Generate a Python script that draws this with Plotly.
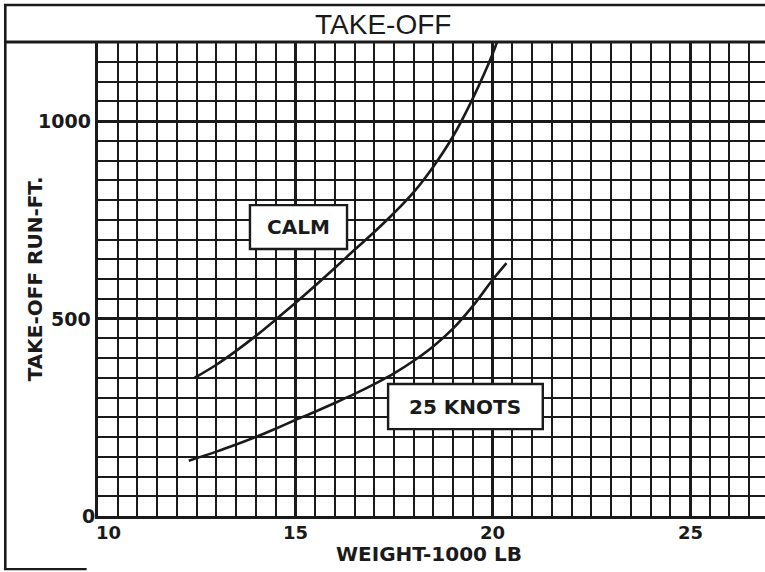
import plotly.graph_objects as go

# ---- data ----
calm_weight = [12.45, 13.0, 13.5, 14.0, 14.5, 15.0, 15.5, 16.0, 16.5, 17.0, 17.5, 18.0, 18.5, 19.0, 19.5, 20.0, 20.15]
calm_run = [350, 383, 418, 456, 497, 539, 583, 628, 674, 719, 767, 820, 885, 962, 1058, 1170, 1212]

knots25_weight = [12.3, 13.0, 13.5, 14.0, 14.5, 15.0, 15.5, 16.0, 16.5, 17.0, 17.5, 18.0, 18.5, 19.0, 19.5, 20.0, 20.35]
knots25_run = [140, 163, 181, 200, 221, 243, 264, 286, 309, 334, 361, 393, 430, 475, 532, 598, 640]

x_tick_vals = [10, 15, 20, 25]
x_tick_text = ["10", "15", "20", "25"]
y_tick_vals = [0, 500, 1000]
y_tick_text = ["0", "500", "1000"]

title_text = "TAKE-OFF"
x_title = "WEIGHT-1000 LB"
y_title = "TAKE-OFF RUN-FT."
calm_label = "CALM"
knots_label = "25 KNOTS"

INK = "#1a1a1a"
TICKFONT = dict(family="DejaVu Sans", size=18, color=INK)
YTICKFONT = dict(family="DejaVu Sans", size=19, color=INK)
BOXFONT = dict(family="DejaVu Sans", size=20, color=INK)
TITLEFONT = dict(family="DejaVu Sans", size=20, color=INK)

fig = go.Figure()
fig.add_trace(go.Scatter(x=calm_weight, y=calm_run, mode="lines", name=calm_label,
                         line=dict(color=INK, width=2.6, shape="spline", smoothing=1.0),
                         showlegend=False, cliponaxis=True))
fig.add_trace(go.Scatter(x=knots25_weight, y=knots25_run, mode="lines", name=knots_label,
                         line=dict(color=INK, width=2.6, shape="spline", smoothing=1.0),
                         showlegend=False, cliponaxis=True))

axis_common = dict(showticklabels=False, ticks="", zeroline=False,
                   showline=True, linecolor=INK, linewidth=3,
                   showgrid=True, gridcolor=INK, gridwidth=2.6)
fig.update_xaxes(range=[10, 26.9], tick0=10, dtick=5,
                 minor=dict(dtick=0.5, tick0=10, showgrid=True, gridcolor=INK, gridwidth=1.6),
                 **axis_common)
fig.update_yaxes(range=[0, 1200], tick0=0, dtick=500,
                 minor=dict(dtick=50, tick0=0, showgrid=True, gridcolor=INK, gridwidth=1.6),
                 **axis_common)

annotations = []
for v, t in zip(x_tick_vals, x_tick_text):
    annotations.append(dict(x=v, y=0, xref="x", yref="paper", text="<b>%s</b>" % t,
                            showarrow=False, xanchor="center", yanchor="top",
                            xshift=10 if v == 10 else 0, yshift=-4, font=TICKFONT))
for v, t in zip(y_tick_vals, y_tick_text):
    annotations.append(dict(x=0, y=v, xref="paper", yref="y", text="<b>%s</b>" % t,
                            showarrow=False, xanchor="right", yanchor="middle",
                            xshift=-1 if v == 0 else -5, font=YTICKFONT))
annotations += [
    dict(x=0.496, y=-0.080, xref="paper", yref="paper", text="<b>%s</b>" % x_title,
         showarrow=False, xanchor="center", yanchor="middle", font=TITLEFONT),
    dict(x=-0.094, y=0.5, xref="paper", yref="paper", text="<b>%s</b>" % y_title, textangle=-90,
         showarrow=False, xanchor="center", yanchor="middle", font=TITLEFONT),
    dict(x=0.427, y=1.036, xref="paper", yref="paper", text=title_text,
         showarrow=False, xanchor="center", yanchor="middle",
         font=dict(family="Liberation Sans", size=28, color=INK)),
    dict(x=15.08, y=731, xref="x", yref="y", text="<b>%s</b>" % calm_label, showarrow=False,
         font=BOXFONT, xanchor="center", yanchor="middle"),
    dict(x=19.31, y=277, xref="x", yref="y", text="<b>%s</b>" % knots_label, showarrow=False,
         font=BOXFONT, xanchor="center", yanchor="middle"),
]

shapes = [
    # label boxes
    dict(type="rect", xref="x", yref="y", x0=13.85, x1=16.31, y0=676, y1=787,
         fillcolor="white", line=dict(color=INK, width=2.4), layer="above"),
    dict(type="rect", xref="x", yref="y", x0=17.35, x1=21.27, y0=220, y1=334,
         fillcolor="white", line=dict(color=INK, width=2.4), layer="above"),
    # top border of plot / bottom of title strip
    dict(type="line", xref="paper", yref="paper", x0=-0.141, x1=1.0, y0=1.0, y1=1.0,
         line=dict(color=INK, width=3)),
    # top of title strip
    dict(type="line", xref="paper", yref="paper", x0=-0.141, x1=1.0, y0=1.078, y1=1.078,
         line=dict(color=INK, width=2.6)),
    # outer left frame
    dict(type="line", xref="paper", yref="paper", x0=-0.139, x1=-0.139, y0=-0.112, y1=1.08,
         line=dict(color=INK, width=2.6)),
    # bottom frame fragment
    dict(type="line", xref="paper", yref="paper", x0=-0.141, x1=-0.017, y0=-0.112, y1=-0.112,
         line=dict(color=INK, width=2.4)),
]

fig.update_layout(width=765, height=572, margin=dict(l=98, r=0, t=42, b=56),
                  paper_bgcolor="white", plot_bgcolor="white",
                  annotations=annotations, shapes=shapes, showlegend=False)

fig.write_html("out.html", config={"displayModeBar": False},
               post_script="document.body.style.margin='0';document.body.style.overflow='hidden';")
